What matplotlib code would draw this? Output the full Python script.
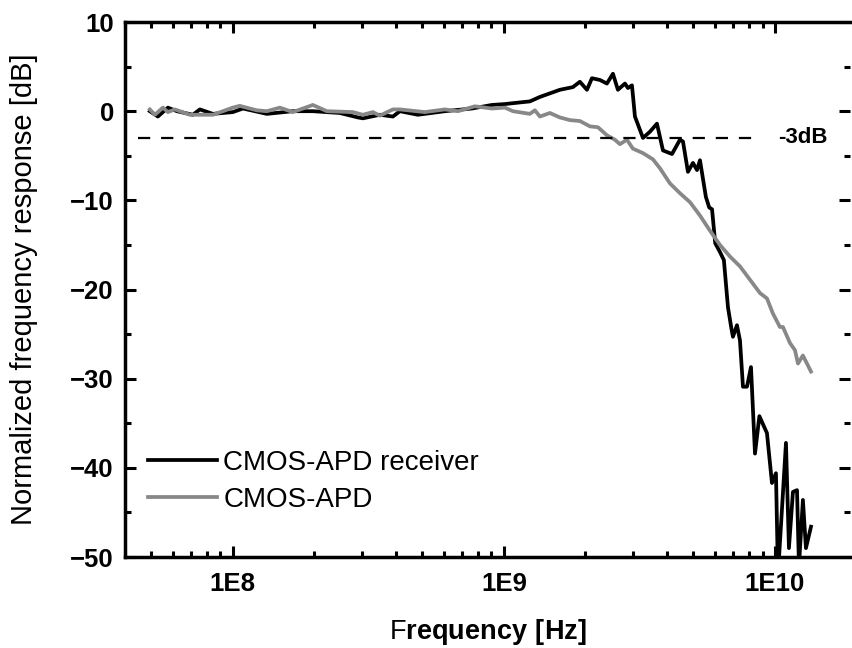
import matplotlib
matplotlib.use('Agg')
import matplotlib.pyplot as plt
from matplotlib.ticker import FixedLocator, LogLocator, MultipleLocator, NullFormatter

plt.rcParams['font.family'] = ['Liberation Sans', 'DejaVu Sans']
plt.rcParams['mathtext.fontset'] = 'custom'
plt.rcParams['mathtext.rm'] = 'Liberation Sans'
plt.rcParams['mathtext.bf'] = 'Liberation Sans:bold'

# CMOS-APD receiver (frequency in GHz, response in dB)
rx_freq = [0.0494, 0.0529, 0.0576, 0.0622, 0.0712, 0.0756, 0.0844, 0.1, 0.109, 0.1335,
           0.1665, 0.1973, 0.2482, 0.2893, 0.3018, 0.3487, 0.3895, 0.4134, 0.4816, 0.6057,
           0.7618, 0.9031, 1.0085, 1.080, 1.247, 1.358, 1.478, 1.609, 1.797, 1.907,
           2.025, 2.112, 2.261, 2.399, 2.525, 2.634, 2.796, 2.869, 2.968, 3.044,
           3.259, 3.458, 3.670, 3.862, 4.170, 4.462, 4.578, 4.775, 4.983, 5.156,
           5.289, 5.56, 5.72, 5.86, 6.02, 6.268, 6.48, 6.709, 6.91, 6.998,
           7.241, 7.428, 7.620, 7.884, 8.157, 8.440, 8.76, 9.343, 9.748, 10.085,
           10.26, 10.98, 11.26, 11.65, 12.06, 12.26, 12.68, 13.01, 13.58]
rx_db = [0.0, -0.6, 0.4, 0.0, -0.4, 0.2, -0.3, -0.1, 0.3, -0.3,
         0.0, 0.0, -0.2, -0.7, -0.8, -0.4, -0.6, 0.0, -0.4, 0.0,
         0.3, 0.7, 0.8, 0.9, 1.1, 1.6, 2.0, 2.4, 2.7, 3.3,
         2.4, 3.7, 3.5, 3.1, 4.2, 2.4, 3.1, 2.6, 2.9, -0.6,
         -3.0, -2.3, -1.4, -4.4, -4.8, -3.2, -3.4, -6.8, -5.8, -6.6,
         -5.5, -9.6, -10.8, -11.0, -14.8, -15.8, -16.7, -22.0, -24.4, -25.3,
         -24.0, -25.7, -30.9, -30.9, -28.7, -38.4, -34.2, -36.1, -41.7, -40.6,
         -52.0, -37.2, -49.0, -42.7, -42.5, -51.0, -43.6, -49.0, -46.6]

# CMOS-APD alone
apd_freq = [0.0494, 0.0516, 0.0552, 0.0576, 0.0611, 0.0694, 0.0844, 0.1, 0.106, 0.1226,
            0.1335, 0.149, 0.1665, 0.1973, 0.2223, 0.2772, 0.3018, 0.3286, 0.3487, 0.3895,
            0.4134, 0.5110, 0.6057, 0.6765, 0.7816, 0.9031, 1.0085, 1.080, 1.247, 1.301,
            1.358, 1.478, 1.609, 1.752, 1.907, 2.077, 2.223, 2.399, 2.568, 2.679,
            2.844, 2.992, 3.259, 3.547, 3.765, 4.099, 4.462, 4.857, 5.289, 5.757,
            6.268, 6.824, 7.428, 8.088, 8.807, 9.343, 9.830, 10.43, 10.70, 11.36,
            11.85, 12.16, 12.68, 13.58]
apd_db = [0.2, -0.4, 0.4, -0.1, 0.2, -0.4, -0.4, 0.4, 0.6, 0.1,
          0.0, 0.4, -0.1, 0.7, 0.0, -0.1, -0.4, -0.1, -0.5, 0.2,
          0.2, -0.1, 0.2, 0.0, 0.55, 0.3, 0.4, 0.0, -0.3, 0.1,
          -0.6, -0.2, -0.7, -1.0, -1.1, -1.7, -1.8, -2.7, -3.2, -3.7,
          -3.2, -4.2, -4.7, -5.4, -6.4, -8.1, -9.2, -10.2, -11.7, -13.4,
          -15.0, -16.3, -17.4, -18.9, -20.4, -21.0, -22.7, -24.2, -24.2, -26.0,
          -26.8, -28.3, -27.4, -29.2]

ref_freq = [0.0446, 8.6]
ref_db = [-3, -3]

fig = plt.figure(figsize=(8.53, 6.48), dpi=100)
ax = fig.add_axes([0.1465, 0.1404, 0.84994, 0.8256])

ax.plot([f * 1e9 for f in rx_freq], rx_db, color='black', lw=2.7, label='CMOS-APD receiver')
ax.plot([f * 1e9 for f in apd_freq], apd_db, color='#888888', lw=2.7, label='CMOS-APD')
ax.plot([f * 1e9 for f in ref_freq], ref_db, color='black', lw=1.6, dashes=(5.5, 4.9))
ax.text(1.03e10, -3, '-3dB', fontsize=16, fontweight='bold', ha='left', va='center')

ax.set_xscale('log')
ax.set_xlim(4e7, 1.891e10)
ax.set_ylim(-50, 10)
ax.xaxis.set_major_locator(FixedLocator([1e8, 1e9, 1e10]))
ax.xaxis.set_minor_locator(LogLocator(base=10, subs=range(2, 10), numticks=20))
ax.xaxis.set_minor_formatter(NullFormatter())
ax.set_xticklabels(['1E8', '1E9', '1E10'])
ax.yaxis.set_major_locator(MultipleLocator(10))
ax.yaxis.set_minor_locator(MultipleLocator(5))

for s in ax.spines.values():
    s.set_linewidth(2.5)
ax.spines['right'].set_visible(False)  # the right frame line is cut off in the original
ax.tick_params(which='both', direction='in', top=True, right=True, width=2.2)
ax.tick_params(which='major', length=8)
ax.tick_params(which='minor', length=4)
ax.tick_params(axis='x', pad=11)
ax.tick_params(axis='y', pad=8)
for lab in ax.get_xticklabels() + ax.get_yticklabels():
    lab.set_fontsize(18.5)
    lab.set_fontweight('bold')

ax.set_xlabel(r'F$\mathbf{requency\ [Hz]}$', fontsize=19.5, labelpad=15)
ax.set_ylabel('Normalized frequency response [dB]', fontsize=21, labelpad=23)

ax.legend(loc='lower left', bbox_to_anchor=(0.0315, 0.083), frameon=False, fontsize=20,
          handlelength=2.5, handletextpad=0.22, labelspacing=0.38, borderpad=0, borderaxespad=0)

fig.savefig('out.png', dpi=100)
